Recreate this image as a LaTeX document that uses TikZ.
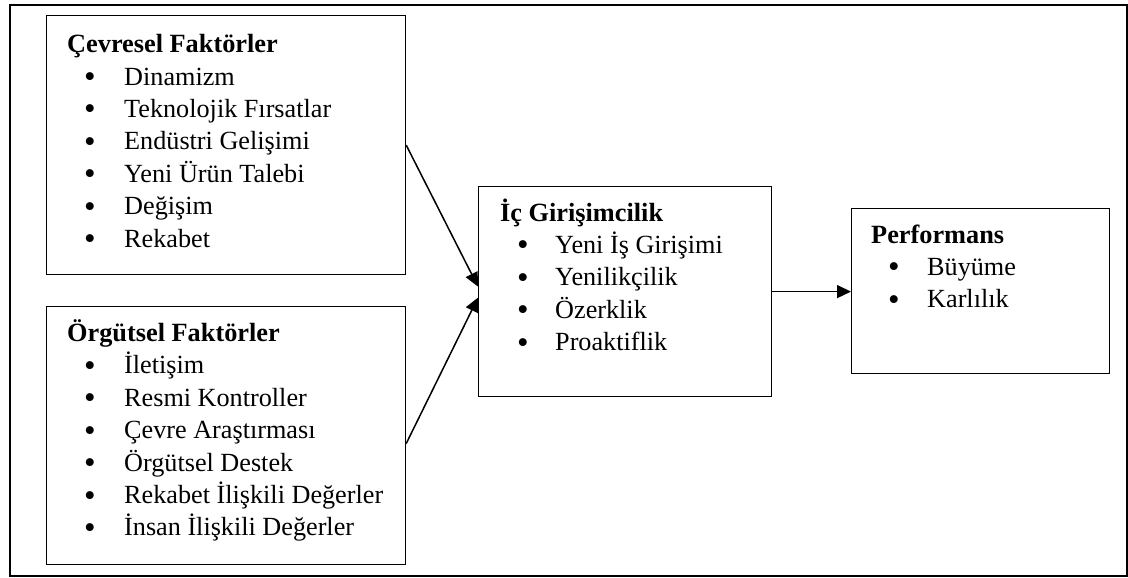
\documentclass[tikz,border=0pt]{standalone}
\usepackage{fontspec}
\setmainfont{Liberation Serif}
\usetikzlibrary{arrows.meta,calc}
\begin{document}
\begin{tikzpicture}[x=1pt,y=-1pt,
  boxnode/.style={draw=black,line width=1.2pt,rectangle,anchor=north west,inner sep=0pt},
  framebox/.style={draw=black,line width=2pt,rectangle,anchor=north west,inner sep=0pt},
  arr/.style={line width=1.5pt,-{Triangle[length=14pt,width=13pt]}},
  ttl/.style={anchor=base west,inner sep=0pt,font=\fontsize{26.3}{32}\selectfont\bfseries},
  itm/.style={anchor=base west,inner sep=0pt,font=\fontsize{26.2}{32}\selectfont},
  bul/.style={anchor=base,inner sep=0pt,font=\fontsize{33}{36}\selectfont}]
\useasboundingbox (0,0) rectangle (1128,578);
\node[framebox,minimum width=1117pt,minimum height=571pt] (frame) at (9,4) {};
\node[boxnode,minimum width=359pt,minimum height=259pt] (b1) at (46,15) {};
\node[boxnode,minimum width=359pt,minimum height=258pt] (b2) at (46,306) {};
\node[boxnode,minimum width=293pt,minimum height=210pt] (b3) at (478,186) {};
\node[boxnode,minimum width=258pt,minimum height=165pt] (b4) at (851,208) {};
% box 1
\node[ttl] (t1) at (67,52.6) {Çevresel Faktörler};
\foreach \t [count=\i] in {Dinamizm,Teknolojik Fırsatlar,Endüstri Gelişimi,Yeni Ürün Talebi,Değişim,Rekabet}{
  \node[bul] (p1\i) at (90,{52.6+32.4*\i+2.5}) {•};
  \node[itm] (i1\i) at (124,{52.6+32.4*\i}) {\t};
}
% box 2
\node[ttl] (t2) at (67,341.5) {Örgütsel Faktörler};
\foreach \t [count=\i] in {İletişim,Resmi Kontroller,Çevre Araştırması,Örgütsel Destek,Rekabet İlişkili Değerler,İnsan İlişkili Değerler}{
  \node[bul] (p2\i) at (90,{341.5+32.4*\i+2.5}) {•};
  \node[itm] (i2\i) at (124,{341.5+32.4*\i}) {\t};
}
% box 3
\node[ttl] (t3) at (500,221) {İç Girişimcilik};
\foreach \t [count=\i] in {Yeni İş Girişimi,Yenilikçilik,Özerklik,Proaktiflik}{
  \node[bul] (p3\i) at (523,{221+32.4*\i+2.5}) {•};
  \node[itm] (i3\i) at (555,{221+32.4*\i}) {\t};
}
% box 4
\node[ttl] (t4) at (871,243) {Performans};
\foreach \t [count=\i] in {Büyüme,Karlılık}{
  \node[bul] (p4\i) at (894,{243+32.4*\i+2.5}) {•};
  \node[itm] (i4\i) at (927,{243+32.4*\i}) {\t};
}
% connectors
\draw[arr] (b1.east) -- ($(b3.west)+(0,-5)$);
\draw[arr] ($(b2.east)+(0,8)$) -- ($(b3.west)+(0,6)$);
\draw[arr] (b3.east) -- (b3.east -| b4.west);
\end{tikzpicture}
\end{document}
